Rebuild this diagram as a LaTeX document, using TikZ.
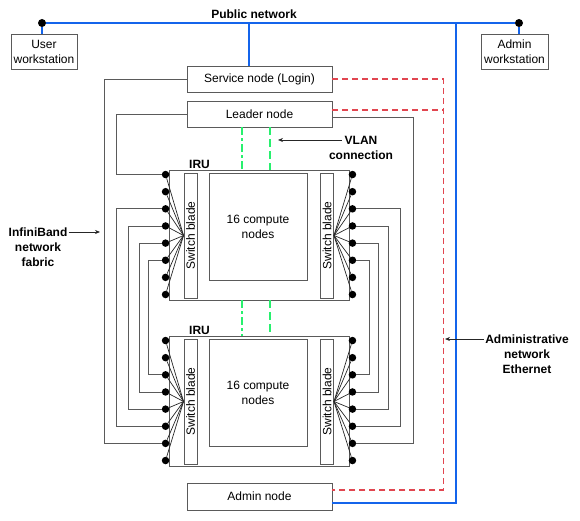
\documentclass[tikz,border=0pt]{standalone}
\usepackage{fontspec}
\setmainfont{Liberation Sans}
\usetikzlibrary{arrows.meta}

\definecolor{wiregray}{RGB}{90,90,90}
\definecolor{lanblue}{RGB}{20,100,235}
\definecolor{ethred}{RGB}{225,70,80}
\definecolor{vlangreen}{RGB}{40,240,110}

\tikzstyle{box} = [draw=wiregray, line width=0.9pt, minimum width=145pt, minimum height=26pt, inner sep=0pt, align=center]
\tikzstyle{ws} = [box, minimum width=66pt, minimum height=35pt]
\tikzstyle{iru} = [draw=wiregray, line width=0.9pt, minimum width=180pt, minimum height=130pt, inner sep=0pt]
\tikzstyle{blade} = [box, rotate=90, minimum width=125pt, minimum height=13pt]
\tikzstyle{compute} = [box, minimum width=98pt, minimum height=107pt]
\tikzstyle{port} = [circle, fill=black, minimum size=7.5pt, inner sep=0pt]
\tikzstyle{fan} = [draw=black!85, line width=0.7pt]
\tikzstyle{wire} = [draw=wiregray, line width=0.9pt]
\tikzstyle{lan} = [draw=lanblue, line width=2.2pt]
\tikzstyle{eth} = [draw=ethred, line width=1.4pt, dash pattern=on 6pt off 4pt]
\tikzstyle{vlan} = [draw=vlangreen, line width=2pt, dash pattern=on 8pt off 3pt on 3pt off 3pt]
\tikzstyle{vlanb} = [draw=vlangreen, line width=2pt, dash pattern=on 8pt off 4pt]
\tikzstyle{lbl} = [font={\fontsize{12}{15}\selectfont\bfseries}, align=center, inner sep=1pt]
\tikzstyle{pointer} = [draw=black!85, line width=0.7pt, -{Stealth[length=5pt,width=4pt]}]

\begin{document}
\begin{tikzpicture}[x=1pt, y=-1pt, font={\fontsize{12}{15}\selectfont}]
\useasboundingbox (0,0) rectangle (580,521);

\node[ws] (user) at (44,51.5) {User\\workstation};
\node[ws, minimum width=67pt] (adminws) at (514.5,51.5) {Admin\\workstation};
\node[box] (service) at (259.5,79) {Service node (Login)};
\node[box] (leader) at (259.5,114) {Leader node};
\node[box, minimum height=27pt] (admin) at (259.5,496.5) {Admin node};

\foreach \n/\cy in {1/235,2/401}{
    \node[iru] (iru\n) at (259,\cy) {};
    \node[lbl, anchor=south] (irulbl\n) at ([xshift=31pt]iru\n.north west) {IRU};
    \node[blade] (bladel\n) at (190.5,\cy+0.5) {Switch blade};
    \node[blade] (blader\n) at (327,\cy+0.5) {Switch blade};
    \node[compute] (compute\n) at (258,\cy-8.5) {16 compute\\nodes};
    \foreach \k [evaluate=\k as \dy using 5+17.14*(\k-1)] in {1,...,8}{
        \node[port] (L\n\k) at ([shift={(-3,\dy)}]iru\n.north west) {};
        \node[port] (R\n\k) at ([shift={(3,\dy)}]iru\n.north east) {};
        \draw[fan] (L\n\k) -- (bladel\n.north);
        \draw[fan] (R\n\k) -- (blader\n.south);
    }
}

\draw[wire] (service.west) -- ++(-82,0) |- (L27);
\draw[wire] (leader.west) -- ++(-70,0) |- (L11);
\draw[wire] (L13) -- ++(-49,0) |- (L26);
\draw[wire] (L14) -- ++(-37,0) |- (L25);
\draw[wire] (L15) -- ++(-26,0) |- (L24);
\draw[wire] (L16) -- ++(-17,0) |- (L23);
\draw[wire] ([yshift=-3pt]leader.east) -- ++(81,0) |- (R27);
\draw[wire] (R13) -- ++(48,0) |- (R26);
\draw[wire] (R14) -- ++(36,0) |- (R25);
\draw[wire] (R15) -- ++(26,0) |- (R24);
\draw[wire] (R16) -- ++(17,0) |- (R23);

\coordinate (vl) at (242,0);
\coordinate (vr) at (270,0);
\draw[vlan] (leader.south -| vl) -- (iru1.north -| vl);
\draw[vlanb] (leader.south -| vr) -- (iru1.north -| vr);
\draw[vlan] (iru1.south -| vl) -- (iru2.north -| vl);
\draw[vlanb] (iru1.south -| vr) -- (iru2.north -| vr);

\draw[eth] (service.east) -- ++(111,0) |- ([yshift=6.5pt]admin.east);
\draw[eth] ([yshift=4pt]leader.east) -- ++(111,0);

\node[port, minimum size=8pt] (publ) at (42,23) {};
\node[port, minimum size=8pt] (pubr) at (519,23) {};
\coordinate (pubt) at (456,23);
\coordinate (svcup) at ([xshift=-10.5pt]service.north);
\draw[lan] (publ) -- (pubr);
\draw[lan] (publ) -- (publ |- user.north);
\draw[lan] (pubr) -- (pubr |- adminws.north);
\draw[lan] (svcup) -- (svcup |- publ);
\draw[lan] ([yshift=-6.5pt]admin.east) -| (pubt);
\node[lbl] (publbl) at (254,14.5) {Public network};

\node[lbl] (vlanlbl) at (361,148) {VLAN\\connection};
\coordinate (vlanpt) at (278,140);
\coordinate (vlanfrom) at ([xshift=14pt]vlanlbl.west);
\draw[pointer] (vlanfrom |- vlanpt) -- (vlanpt);

\node[lbl] (iblbl) at (38,247) {InfiniBand\\network\\fabric};
\coordinate (ibpt) at (100,232);
\draw[pointer] (iblbl.east |- ibpt) -- (ibpt);

\node[lbl] (ethlbl) at (527,354) {Administrative\\network\\Ethernet};
\coordinate (ethpt) at (445,339);
\draw[pointer] (ethlbl.west |- ethpt) -- (ethpt);
\end{tikzpicture}
\end{document}
